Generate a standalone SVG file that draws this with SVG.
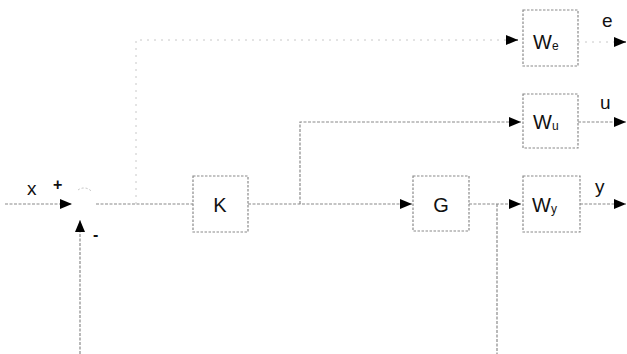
<svg xmlns="http://www.w3.org/2000/svg" width="627" height="354" viewBox="0 0 627 354">
<style>
.ln{fill:none;stroke:#8a8a8a;stroke-width:1.2;stroke-dasharray:3 1.5}
.fa{fill:none;stroke:#c8c8c8;stroke-width:1;stroke-dasharray:2 5}
.bx{fill:#fff;stroke:#8a8a8a;stroke-width:1.2;stroke-dasharray:2.5 1.5}
.t{font-family:"Liberation Sans",Arial,sans-serif;fill:#111}
.big{font-size:20px}
.lab{font-size:19px}
.sub{font-size:12px}
</style>
<defs>
<marker id="ah" viewBox="0 0 12 10" refX="12" refY="5" markerWidth="12" markerHeight="10" markerUnits="userSpaceOnUse" orient="auto">
<path d="M0,0 L12,5 L0,10 z" fill="#000"/>
</marker>
</defs>
<rect width="627" height="354" fill="#fff"/>
<g id="connectors">
<path class="ln" d="M5,204 H72" marker-end="url(#ah)"/>
<path class="ln" d="M80,354 V220" marker-end="url(#ah)"/>
<path class="ln" d="M96,204 H193"/>
<path class="fa" d="M136,204 V40 H506"/>
<path d="M506,40 H518" stroke="#000" marker-end="url(#ah)"/>
<path class="ln" d="M248,204 H412" marker-end="url(#ah)"/>
<path class="ln" d="M300,204 V122 H521" marker-end="url(#ah)"/>
<path class="ln" d="M469,204 H521" marker-end="url(#ah)"/>
<path class="ln" d="M497,204 V354"/>
<path class="fa" d="M578,42 H616"/>
<path d="M614,42 H626" stroke="#000" marker-end="url(#ah)"/>
<path class="ln" d="M578,122 H626" marker-end="url(#ah)"/>
<path class="ln" d="M580,204 H626" marker-end="url(#ah)"/>
</g>
<g id="sum">
<path d="M78,190 A10 10 0 0 1 92,192" fill="none" stroke="#c0c0c0" stroke-width="1" stroke-dasharray="2 2"/>
<text class="t lab" x="27" y="195">x</text>
<text class="t" x="53" y="190" font-size="16" font-weight="bold">+</text>
<text class="t" x="93" y="240" font-size="16" font-weight="bold">-</text>
</g>
<g id="K">
<rect class="bx" x="193" y="176" width="55" height="56"/>
<text class="t big" x="220" y="212" text-anchor="middle">K</text>
</g>
<g id="G">
<rect class="bx" x="413" y="176" width="56" height="55"/>
<text class="t big" x="441" y="212" text-anchor="middle">G</text>
</g>
<g id="We">
<rect class="bx" x="523" y="10" width="55" height="56"/>
<text class="t big" x="533" y="49">W<tspan class="sub" dy="1">e</tspan></text>
</g>
<g id="Wu">
<rect class="bx" x="523" y="94" width="55" height="54"/>
<text class="t big" x="533" y="129">W<tspan class="sub" dy="1">u</tspan></text>
</g>
<g id="Wy">
<rect class="bx" x="523" y="176" width="57" height="56"/>
<text class="t big" x="532" y="212">W<tspan class="sub" dy="1">y</tspan></text>
</g>
<g id="outputs">
<text class="t lab" x="602" y="27">e</text>
<text class="t lab" x="600" y="109">u</text>
<text class="t lab" x="595" y="193">y</text>
</g>
</svg>
